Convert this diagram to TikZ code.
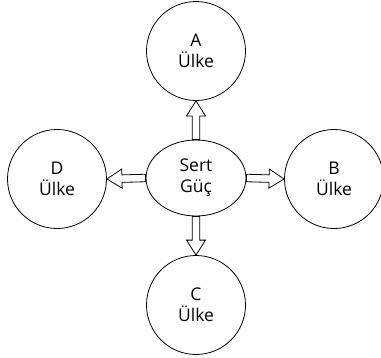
\documentclass[tikz,border=0pt]{standalone}
\usepackage{fontspec}
\setmainfont{Open Sans}
\usetikzlibrary{calc,shapes.geometric}

\begin{document}
\begin{tikzpicture}[x=1pt,y=-1pt,line width=0.8pt,
font=\fontsize{17.5}{21}\selectfont]
\tikzstyle{country}=[circle,draw,minimum size=99pt,inner sep=0pt,align=center]
\tikzstyle{power}=[ellipse,draw,minimum width=100pt,minimum height=76pt,inner sep=0pt,align=center]
\tikzstyle{blockarrow}=[to path={let \p1=(\tikztostart), \p2=(\tikztotarget),
  \n1={atan2(\y2-\y1,\x2-\x1)} in
  ($(\p1)+(\n1+90:3.75pt)$) -- ($(\p2)+(\n1+180:15pt)+(\n1+90:3.75pt)$)
  -- ($(\p2)+(\n1+180:15pt)+(\n1+90:9.5pt)$) -- (\p2)
  -- ($(\p2)+(\n1+180:15pt)+(\n1-90:9.5pt)$)
  -- ($(\p2)+(\n1+180:15pt)+(\n1-90:3.75pt)$)
  -- ($(\p1)+(\n1-90:3.75pt)$) -- cycle \tikztonodes}]
\useasboundingbox (0,0) rectangle (381,357);

\node[power]   (E) at (196,178) {Sert\\Güç};
\node[country] (A) at (196,51)  {A\\Ülke};
\node[country] (B) at (334,179) {B\\Ülke};
\node[country] (C) at (196,305) {C\\Ülke};
\node[country] (D) at (57,179)  {D\\Ülke};

\path (E.north) edge[blockarrow] (A.south)
(E.east)  edge[blockarrow] (B.west)
(E.south) edge[blockarrow] (C.north)
(E.west)  edge[blockarrow] (D.east);
\end{tikzpicture}
\end{document}
